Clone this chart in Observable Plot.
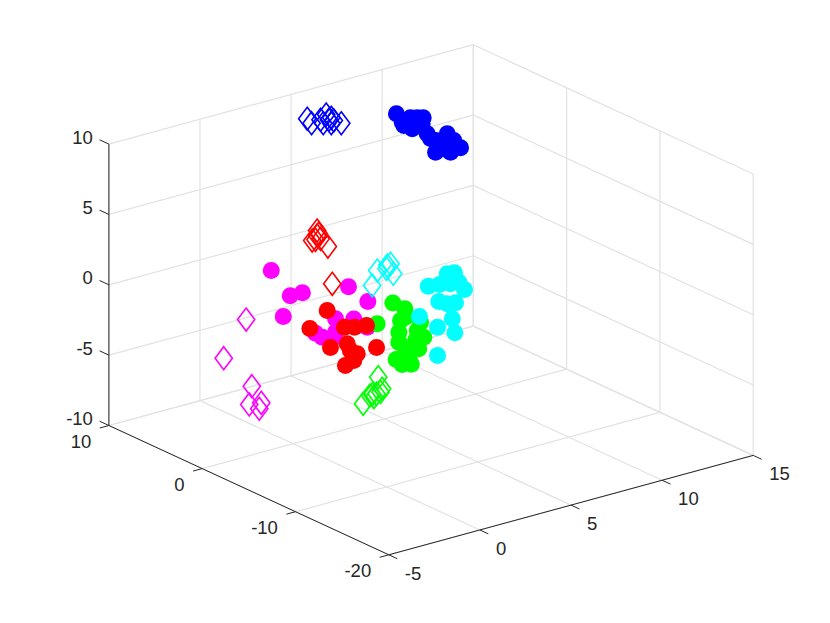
<!DOCTYPE html>
<html>
<head>
<meta charset="utf-8">
<style>html,body{margin:0;padding:0;background:#fff}svg{display:block}</style>
<script src="https://cdn.jsdelivr.net/npm/d3@7"></script>
<script src="https://cdn.jsdelivr.net/npm/@observablehq/plot@0.6"></script>
</head>
<body>
<div id="chart"></div>
<script>
const xTicks = [-5, 0, 5, 10, 15];
const yTicks = [10, 0, -10, -20];
const zTicks = [-10, -5, 0, 5, 10];

// [x, y, z]
const blueCircles = [[8.22,5,9.02],[8.54,5,8.30],[8.63,5,8.04],[9.09,5,7.64],[8.99,5,8.46],[9.36,5,8.33],[9.69,5,8.21],[9.63,5,7.81],[9.91,5,7.00],[10.37,5,5.53],[10.37,5,6.36],[10.64,5,6.03],[11.01,5,6.61],[11.19,5,5.23],[11.37,5,6.00],[11.74,5,5.36],[10.82,5,5.61],[11.02,5,5.77],[9.32,5,7.79],[10.09,5,6.60]];
const blueDiamonds = [[4.86,8,8.93],[5.10,8,8.53],[5.74,8,8.30],[5.90,8,8.86],[6.05,8,8.44],[6.18,8,8.53],[6.18,8,8.15],[6.32,8,8.29],[5.59,8,8.60],[6.73,8,7.95]];
const redDiamonds = [[4.38,6,1.77],[4.47,6,1.50],[4.11,6,1.15],[4.57,6,1.11],[4.97,6,0.42],[4.38,6,1.42],[4.29,6,1.14],[5.21,6,-2.31]];
const cyanDiamonds = [[7.40,6,-3.20],[7.68,6,-2.24],[8.23,6,-2.08],[8.41,6,-2.02],[8.56,6,-2.78],[8.19,6,-2.30]];
const cyanCircles = [[7.95,2,-4.38],[8.43,2,-2.39],[9.05,2,-2.49],[9.47,2,-1.88],[9.87,2,-1.95],[10.11,2,-2.70],[10.42,2,-3.33],[9.65,2,-2.65],[9.01,2,-3.68],[9.93,2,-4.10],[9.47,2,-4.01],[9.75,2,-5.18],[8.94,2,-5.49],[9.89,2,-6.22],[8.94,2,-7.50]];
const greenCircles = [[3.58,-2,-2.12],[4.44,-2,-0.96],[5.10,-2,-1.59],[4.86,-2,-2.34],[5.13,-2,-2.20],[4.77,-2,-3.14],[4.77,-2,-3.85],[5.96,-2,-2.85],[5.78,-2,-3.38],[6.14,-2,-3.98],[5.86,-2,-4.71],[5.32,-2,-5.11],[4.62,-2,-5.03],[4.95,-2,-5.50],[5.45,-2,-5.67],[5.68,-2,-4.05],[5.14,-2,-4.58]];
const greenDiamonds = [[3.64,-2,-5.94],[2.81,-2,-7.54],[3.31,-2,-7.05],[3.54,-2,-7.08],[3.76,-2,-7.04],[3.85,-2,-6.84],[3.40,-2,-7.27],[3.18,-2,-7.08]];
const magentaCircles = [[-1.21,0,2.74],[-0.17,0,0.58],[0.50,0,0.55],[-0.55,0,-0.76],[3.03,0,0.09],[4.09,0,-1.34],[2.32,0,-1.94],[3.32,0,-2.30],[1.22,0,-2.57],[1.59,0,-2.99],[2.32,0,-2.89],[2.14,0,-3.30],[4.06,0,-3.15]];
const redCircles = [[1.86,0,-1.19],[0.91,0,-2.13],[2.81,0,-2.71],[3.36,0,-2.90],[4.02,0,-3.01],[2.04,0,-3.88],[2.96,0,-3.94],[4.57,0,-4.78],[3.51,0,-4.85],[3.32,0,-5.26],[2.86,0,-5.45],[3.13,0,-4.48]];
const magentaDiamonds = [[-0.54,4,-2.21],[-1.77,4,-4.52],[-0.23,4,-7.05],[-0.37,4,-8.30],[0.29,4,-8.42],[0.18,4,-8.80]];

// Orthographic view of the 3-D box onto the page plane
const px = ([x, y]) => 108.4 + 18.22 * (x + 5) + 9.33 * (10 - y);
const py = ([x, y, z]) => 425 - 4.97 * (x + 5) + 4.31 * (10 - y) - 14.07 * (z + 10);

const diamond = {
  draw(ctx, size) {
    const h = Math.sqrt(size / Math.PI), w = h * 0.75;
    ctx.moveTo(0, -h); ctx.lineTo(w, 0); ctx.lineTo(0, h); ctx.lineTo(-w, 0); ctx.closePath();
  }
};

const seg = (a, b) => ({a, b});
const gridSegs = [
  ...xTicks.flatMap(x => [seg([x,10,-10],[x,-20,-10]), seg([x,10,-10],[x,10,10])]),
  ...yTicks.flatMap(y => [seg([-5,y,-10],[15,y,-10]), seg([15,y,-10],[15,y,10])]),
  ...zTicks.flatMap(z => [seg([-5,10,z],[15,10,z]), seg([15,10,z],[15,-20,z])])
];
const axisSegs = [
  seg([-5,10,-10],[-5,10,10]),
  seg([-5,10,-10],[-5,-20,-10]),
  seg([-5,-20,-10],[15,-20,-10]),
  ...xTicks.map(x => seg([x,-20,-10],[x,-20.9,-10])),
  ...yTicks.map(y => seg([-5,y,-10],[-5.5,y,-10])),
  ...zTicks.map(z => seg([-5,10,z],[-5,11,z]))
];

const link = (data, o) => Plot.link(data, {
  x1: d => px(d.a), y1: d => py(d.a), x2: d => px(d.b), y2: d => py(d.b), ...o
});
const circles = (data, fill) => Plot.dot(data, {x: px, y: py, r: 8.5, fill, stroke: "none"});
const diamonds = (data, stroke) => Plot.dot(data, {x: px, y: py, r: 11.5, symbol: diamond, fill: "none", stroke, strokeWidth: 1.6});
const font = {fontFamily: "'Liberation Sans', Arial, sans-serif", fontSize: 18.5, fill: "#262626", lineAnchor: "middle"};

const chart = Plot.plot({
  width: 830, height: 623,
  marginTop: 0, marginRight: 0, marginBottom: 0, marginLeft: 0,
  style: {background: "#fff"},
  x: {domain: [0, 830], range: [0, 830], axis: null},
  y: {domain: [0, 623], range: [0, 623], axis: null},
  marks: [
    link(gridSegs, {stroke: "#e2e2e2", strokeWidth: 1.2}),
    link(axisSegs, {stroke: "#262626", strokeWidth: 1}),
    Plot.text(zTicks, {x: z => px([-5,10,z]), y: z => py([-5,10,z]), text: d => String(d), textAnchor: "end", dx: -16, dy: -6.5, ...font}),
    Plot.text(yTicks, {x: y => px([-5,y,-10]), y: y => py([-5,y,-10]), text: d => String(d), textAnchor: "end", dx: -17.6, dy: 16.5, ...font}),
    Plot.text(xTicks, {x: x => px([x,-20,-10]), y: x => py([x,-20,-10]), text: d => String(d), textAnchor: "start", dx: 16, dy: 19, ...font}),
    circles(magentaCircles, "#ff00ff"),
    circles(greenCircles, "#00ff00"),
    circles(cyanCircles, "#00ffff"),
    circles(blueCircles, "#0000ff"),
    circles(redCircles, "#ff0000"),
    diamonds(blueDiamonds, "#0000ff"),
    diamonds(redDiamonds, "#ff0000"),
    diamonds(cyanDiamonds, "#00ffff"),
    diamonds(greenDiamonds, "#00ff00"),
    diamonds(magentaDiamonds, "#ff00ff")
  ]
});
document.getElementById("chart").appendChild(chart);
</script>
</body>
</html>
